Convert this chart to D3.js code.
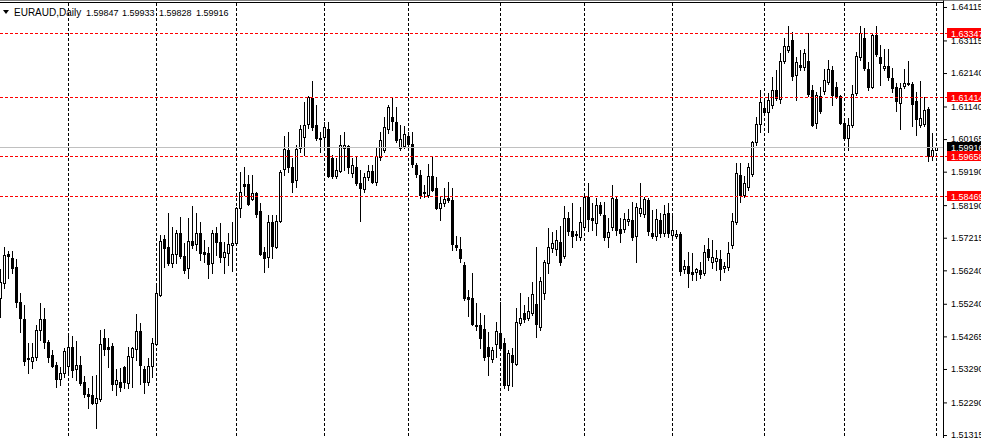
<!DOCTYPE html>
<html><head><meta charset="utf-8">
<script src="https://cdn.jsdelivr.net/npm/d3@7"></script>
<style>html,body{margin:0;padding:0;background:#fff;overflow:hidden}</style>
</head><body><svg id="c" width="981" height="438"></svg>
<script>
const symbolLabel = "EURAUD,Daily";
const ohlcLabel = ["1.59847", "1.59933", "1.59828", "1.59916"];

const opens = [1.5541,1.5586,1.5673,1.5661,1.5634,1.5529,1.5479,1.5362,1.5353,1.5365,
1.5446,1.5479,1.5410,1.5371,1.5341,1.5299,1.5317,1.5338,1.5395,1.5329,
1.5341,1.5290,1.5254,1.5251,1.5227,1.5239,1.5422,1.5395,1.5398,1.5284,
1.5290,1.5335,1.5287,1.5365,1.5389,1.5443,1.5329,1.5290,1.5338,1.5404,
1.5550,1.5718,1.5694,1.5646,1.5673,1.5736,1.5667,1.5631,1.5712,1.5703,
1.5736,1.5679,1.5676,1.5646,1.5736,1.5709,1.5664,1.5676,1.5700,1.5706,
1.5810,1.5882,1.5882,1.5837,1.5855,1.5802,1.5679,1.5664,1.5769,1.5694,
1.5772,1.5927,1.5984,1.5933,1.5894,1.5990,1.6023,1.6062,1.6139,1.6059,
1.6020,1.6023,1.6047,1.5960,1.5906,1.5921,1.5990,1.5996,1.5915,1.5933,
1.5885,1.5867,1.5903,1.5921,1.5888,1.5963,1.5984,1.6047,1.6083,1.6068,
1.5990,1.5996,1.6026,1.6002,1.5939,1.5909,1.5858,1.5849,1.5906,1.5870,
1.5810,1.5825,1.5840,1.5834,1.5700,1.5688,1.5640,1.5544,1.5541,1.5461,
1.5461,1.5449,1.5395,1.5359,1.5404,1.5437,1.5407,1.5281,1.5371,1.5344,
1.5467,1.5497,1.5482,1.5497,1.5523,1.5455,1.5556,1.5646,1.5691,1.5688,
1.5709,1.5667,1.5781,1.5742,1.5730,1.5724,1.5754,1.5843,1.5781,1.5766,
1.5819,1.5790,1.5724,1.5754,1.5837,1.5748,1.5748,1.5772,1.5775,1.5727,
1.5796,1.5793,1.5834,1.5736,1.5727,1.5775,1.5736,1.5796,1.5730,1.5727,
1.5733,1.5628,1.5637,1.5619,1.5619,1.5625,1.5616,1.5688,1.5649,1.5652,
1.5658,1.5631,1.5634,1.5700,1.5769,1.5909,1.5849,1.5873,1.5912,1.6008,
1.6062,1.6109,1.6098,1.6118,1.6163,1.6136,1.6250,1.6283,1.6313,1.6208,
1.6238,1.6232,1.6250,1.6163,1.6065,1.6145,1.6160,1.6187,1.6223,1.6172,
1.6145,1.6065,1.6020,1.6059,1.6154,1.6262,1.6319,1.6226,1.6172,1.6328,
1.6262,1.6229,1.6235,1.6199,1.6172,1.6124,1.6175,1.6184,1.6181,1.6130,
1.6059,1.6062,1.6106,1.5966,1.59847];

const highs = [1.5628,1.5694,1.5682,1.5682,1.5658,1.5556,1.5520,1.5407,1.5407,1.5461,
1.5526,1.5511,1.5416,1.5386,1.5350,1.5335,1.5392,1.5437,1.5428,1.5413,
1.5368,1.5308,1.5272,1.5308,1.5311,1.5446,1.5449,1.5422,1.5407,1.5329,
1.5332,1.5338,1.5395,1.5395,1.5494,1.5467,1.5338,1.5362,1.5422,1.5580,
1.5730,1.5730,1.5796,1.5754,1.5745,1.5784,1.5706,1.5781,1.5816,1.5796,
1.5769,1.5715,1.5694,1.5745,1.5754,1.5766,1.5709,1.5736,1.5769,1.5813,
1.5918,1.5933,1.5909,1.5909,1.5858,1.5825,1.5694,1.5790,1.5790,1.5790,
1.5924,1.6026,1.6038,1.5960,1.5999,1.6059,1.6127,1.6145,1.6190,1.6118,
1.6038,1.6068,1.6068,1.5969,1.5960,1.6029,1.6038,1.5999,1.5960,1.5963,
1.5924,1.5915,1.5939,1.5939,1.5990,1.6038,1.6083,1.6118,1.6142,1.6112,
1.6059,1.6056,1.6038,1.6038,1.5945,1.5924,1.5879,1.5942,1.5963,1.5903,
1.5843,1.5870,1.5888,1.5870,1.5727,1.5724,1.5649,1.5565,1.5616,1.5526,
1.5497,1.5491,1.5440,1.5395,1.5470,1.5529,1.5422,1.5386,1.5392,1.5511,
1.5556,1.5520,1.5544,1.5589,1.5694,1.5604,1.5655,1.5751,1.5739,1.5745,
1.5757,1.5816,1.5799,1.5825,1.5742,1.5813,1.5849,1.5885,1.5825,1.5840,
1.5828,1.5828,1.5781,1.5879,1.5843,1.5781,1.5796,1.5807,1.5828,1.5825,
1.5885,1.5843,1.5840,1.5805,1.5807,1.5796,1.5819,1.5825,1.5796,1.5745,
1.5739,1.5655,1.5679,1.5676,1.5631,1.5649,1.5700,1.5721,1.5715,1.5685,
1.5685,1.5649,1.5709,1.5796,1.5945,1.5945,1.5906,1.5945,1.6011,1.6083,
1.6163,1.6139,1.6154,1.6202,1.6223,1.6274,1.6319,1.6355,1.6337,1.6262,
1.6283,1.6286,1.6334,1.6178,1.6157,1.6172,1.6226,1.6253,1.6235,1.6187,
1.6148,1.6080,1.6080,1.6178,1.6277,1.6355,1.6349,1.6247,1.6334,1.6355,
1.6298,1.6286,1.6286,1.6229,1.6184,1.6184,1.6226,1.6250,1.6187,1.6157,
1.6190,1.6142,1.6112,1.6035,1.59933];

const lows = [1.5485,1.5571,1.5601,1.5616,1.5514,1.5440,1.5341,1.5317,1.5332,1.5356,
1.5416,1.5392,1.5350,1.5335,1.5275,1.5281,1.5305,1.5317,1.5305,1.5296,
1.5281,1.5245,1.5212,1.5224,1.5153,1.5233,1.5371,1.5335,1.5266,1.5251,
1.5263,1.5272,1.5272,1.5275,1.5356,1.5284,1.5257,1.5281,1.5305,1.5401,
1.5547,1.5634,1.5640,1.5634,1.5646,1.5661,1.5616,1.5601,1.5691,1.5685,
1.5655,1.5649,1.5601,1.5616,1.5670,1.5649,1.5616,1.5640,1.5622,1.5703,
1.5784,1.5849,1.5819,1.5834,1.5784,1.5670,1.5619,1.5634,1.5661,1.5691,
1.5769,1.5909,1.5918,1.5858,1.5873,1.5978,1.5969,1.6050,1.6044,1.6014,
1.5978,1.5996,1.5903,1.5900,1.5900,1.5918,1.5924,1.5915,1.5903,1.5879,
1.5772,1.5858,1.5894,1.5885,1.5879,1.5954,1.5978,1.6035,1.6044,1.6008,
1.5984,1.5990,1.5990,1.5933,1.5903,1.5840,1.5843,1.5843,1.5861,1.5808,
1.5775,1.5816,1.5828,1.5685,1.5685,1.5649,1.5535,1.5488,1.5461,1.5446,
1.5392,1.5356,1.5311,1.5350,1.5365,1.5386,1.5272,1.5266,1.5278,1.5341,
1.5461,1.5470,1.5476,1.5491,1.5425,1.5446,1.5538,1.5616,1.5679,1.5670,
1.5640,1.5661,1.5730,1.5694,1.5715,1.5715,1.5748,1.5742,1.5745,1.5730,
1.5790,1.5715,1.5694,1.5745,1.5730,1.5709,1.5739,1.5760,1.5715,1.5649,
1.5787,1.5784,1.5730,1.5721,1.5715,1.5724,1.5727,1.5724,1.5724,1.5721,
1.5610,1.5616,1.5574,1.5595,1.5595,1.5601,1.5610,1.5655,1.5631,1.5625,
1.5595,1.5619,1.5625,1.5691,1.5763,1.5828,1.5843,1.5864,1.5906,1.5999,
1.6038,1.6089,1.6038,1.6109,1.6133,1.6124,1.6244,1.6277,1.6193,1.6133,
1.6223,1.6223,1.6145,1.6056,1.6050,1.6095,1.6151,1.6181,1.6118,1.6139,
1.6062,1.6014,1.5984,1.6053,1.6148,1.6253,1.6223,1.6163,1.6169,1.6265,
1.6178,1.6223,1.6193,1.6157,1.6101,1.6047,1.6169,1.6178,1.6056,1.6029,
1.6053,1.6056,1.5951,1.5954,1.59828];

const closes = [1.5589,1.5670,1.5667,1.5631,1.5529,1.5482,1.5353,1.5359,1.5365,1.5446,
1.5479,1.5410,1.5365,1.5338,1.5299,1.5317,1.5383,1.5395,1.5326,1.5341,
1.5287,1.5254,1.5248,1.5227,1.5242,1.5404,1.5389,1.5389,1.5284,1.5296,
1.5275,1.5290,1.5368,1.5392,1.5443,1.5341,1.5290,1.5338,1.5407,1.5556,
1.5712,1.5691,1.5646,1.5673,1.5736,1.5667,1.5625,1.5712,1.5700,1.5736,
1.5676,1.5673,1.5643,1.5736,1.5709,1.5664,1.5679,1.5703,1.5706,1.5810,
1.5858,1.5876,1.5822,1.5855,1.5793,1.5673,1.5661,1.5769,1.5697,1.5772,
1.5918,1.5987,1.5933,1.5888,1.5987,1.6047,1.6059,1.6142,1.6053,1.6020,
1.6017,1.6053,1.5906,1.5906,1.5924,1.5999,1.5999,1.5933,1.5939,1.5885,
1.5870,1.5903,1.5921,1.5888,1.5966,1.6014,1.6053,1.6112,1.6071,1.6014,
1.6017,1.6032,1.6002,1.5942,1.5912,1.5849,1.5855,1.5906,1.5864,1.5810,
1.5825,1.5837,1.5834,1.5703,1.5694,1.5661,1.5541,1.5538,1.5464,1.5458,
1.5422,1.5365,1.5368,1.5386,1.5443,1.5392,1.5281,1.5377,1.5350,1.5470,
1.5482,1.5479,1.5503,1.5553,1.5464,1.5592,1.5649,1.5694,1.5706,1.5715,
1.5649,1.5781,1.5742,1.5727,1.5733,1.5769,1.5843,1.5778,1.5775,1.5819,
1.5796,1.5724,1.5739,1.5840,1.5745,1.5736,1.5778,1.5778,1.5724,1.5813,
1.5810,1.5837,1.5742,1.5727,1.5778,1.5736,1.5793,1.5736,1.5745,1.5733,
1.5622,1.5637,1.5616,1.5613,1.5628,1.5613,1.5679,1.5664,1.5664,1.5661,
1.5628,1.5637,1.5676,1.5772,1.5915,1.5849,1.5885,1.5933,1.6008,1.6062,
1.6127,1.6098,1.6133,1.6163,1.6139,1.6250,1.6295,1.6295,1.6205,1.6247,
1.6232,1.6274,1.6151,1.6059,1.6148,1.6101,1.6193,1.6226,1.6148,1.6145,
1.6065,1.6020,1.6059,1.6151,1.6265,1.6334,1.6229,1.6172,1.6328,1.6271,
1.6244,1.6235,1.6202,1.6169,1.6130,1.6169,1.6184,1.6182,1.6121,1.6077,
1.6080,1.6104,1.5966,1.5984,1.59916];

const gridBars = [17, 39, 59, 81, 102, 125, 146, 168, 191, 211, 234];
const priceTicks = [1.64115,1.63115,1.62140,1.61140,1.60165,1.59190,1.58190,1.57215,1.56240,1.55240,1.54265,1.53290,1.52290,1.51315];
const levels = [1.63347, 1.61414, 1.59658, 1.58469];
const bid = 1.59916;

const W = 981, H = 438, axisX = 943;
const FONT = "'Liberation Sans', Arial, sans-serif";
const FS = "9px";
const svg = d3.select("#c");
const y = d3.scaleLinear().domain([1.51226, 1.64324]).range([H, 0]);
const x = d3.scaleLinear().domain([0, opens.length - 1]).range([0.5, 936.5]);

svg.append("clipPath").attr("id", "plot").append("rect")
  .attr("x", 0).attr("y", 0).attr("width", axisX).attr("height", H);
const plot = svg.append("g").attr("clip-path", "url(#plot)");

// vertical grid
plot.selectAll("line.grid").data(gridBars).join("line")
  .attr("class", "grid")
  .attr("x1", d => x(d)).attr("x2", d => x(d))
  .attr("y1", 3).attr("y2", H)
  .attr("stroke", "#000").attr("stroke-width", 1)
  .attr("stroke-dasharray", "3,2");

const bars = d3.range(opens.length).map(i => ({
  i, o: opens[i], h: highs[i], l: lows[i], c: closes[i]
}));
const py = v => Math.round(y(v));

// wicks
plot.selectAll("line.wick").data(bars).join("line")
  .attr("class", "wick")
  .attr("x1", d => x(d.i)).attr("x2", d => x(d.i))
  .attr("y1", d => py(d.h)).attr("y2", d => py(d.l) + 1)
  .attr("stroke", "#000").attr("stroke-width", 1)
  .attr("shape-rendering", "crispEdges");

// bodies
const bodyG = plot.append("g").attr("shape-rendering", "crispEdges");
bars.forEach(d => {
  const top = py(Math.max(d.o, d.c)), bot = py(Math.min(d.o, d.c));
  const bull = d.c >= d.o;
  if (bot - top < 1) {
    bodyG.append("line")
      .attr("x1", x(d.i) - 1.5).attr("x2", x(d.i) + 1.5)
      .attr("y1", top + 0.5).attr("y2", top + 0.5)
      .attr("stroke", "#000");
  } else {
    bodyG.append("rect")
      .attr("x", x(d.i) - 1).attr("y", top + 0.5)
      .attr("width", 2).attr("height", bot - top)
      .attr("fill", bull ? "#fff" : "#000")
      .attr("stroke", "#000").attr("stroke-width", 1);
  }
});

// bid line
plot.append("line")
  .attr("x1", 0).attr("x2", axisX)
  .attr("y1", py(bid) + 0.5).attr("y2", py(bid) + 0.5)
  .attr("stroke", "#C0C0C0").attr("stroke-width", 1);

// horizontal level lines
svg.selectAll("line.level").data(levels).join("line")
  .attr("class", "level")
  .attr("x1", 0).attr("x2", 947)
  .attr("y1", d => py(d) + 0.5).attr("y2", d => py(d) + 0.5)
  .attr("stroke", "#FF0000").attr("stroke-width", 1)
  .attr("stroke-dasharray", "3,2");

// top frame
svg.append("line").attr("x1", 0).attr("x2", W).attr("y1", 0.5).attr("y2", 0.5).attr("stroke", "#808080");
svg.append("line").attr("x1", 0).attr("x2", axisX + 1).attr("y1", 2.5).attr("y2", 2.5).attr("stroke", "#000");

// right price axis
const axis = d3.axisRight(y).tickValues(priceTicks)
  .tickFormat(d3.format(".5f")).tickSize(4).tickSizeOuter(0).tickPadding(4);
const ag = svg.append("g").attr("transform", `translate(${axisX},0)`).call(axis);
ag.select(".domain").attr("stroke", "#000");
ag.selectAll(".tick line").attr("stroke", "#000");
ag.selectAll(".tick text").attr("fill", "#000")
  .style("font-family", FONT).style("font-size", FS);

// price labels (bid + levels)
function priceTag(v, bg) {
  const yy = py(v);
  svg.append("rect").attr("x", 947).attr("y", yy - 5).attr("width", W - 947).attr("height", 10)
    .attr("fill", bg);
  svg.append("text").attr("x", 951).attr("y", yy + 3.5)
    .attr("fill", "#fff").style("font-family", FONT).style("font-size", FS)
    .text(d3.format(".5f")(v));
}
priceTag(bid, "#000");
levels.forEach(v => priceTag(v, "#FF0000"));

// title
svg.append("path").attr("d", "M3,10 L9,10 L6,14 Z").attr("fill", "#000");
svg.append("text").attr("x", 14).attr("y", 16)
  .style("font-family", FONT).style("font-size", "10px").attr("fill", "#000")
  .text(symbolLabel);
const ohlcX = [86, 122, 159, 196];
ohlcLabel.forEach((t, k) => {
  svg.append("text").attr("x", ohlcX[k]).attr("y", 16)
    .style("font-family", FONT).style("font-size", FS).attr("fill", "#000")
    .text(t);
});
</script>
</body></html>
